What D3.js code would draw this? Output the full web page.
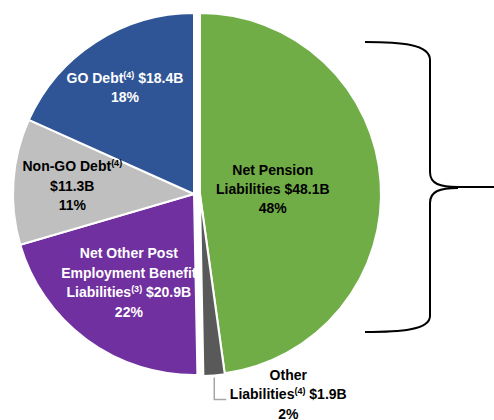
<!DOCTYPE html>
<html>
<head>
<meta charset="utf-8">
<script src="https://cdn.jsdelivr.net/npm/d3@7"></script>
<style>
  body { margin: 0; background: #fff; }
  svg { display: block; }
  text { font-family: "Liberation Sans", Arial, sans-serif; font-weight: bold; }
</style>
</head>
<body>
<svg id="chart" width="494" height="420"></svg>
<script>
// slices, clockwise from 12 o'clock
const categories = ["Net Pension Liabilities", "Other Liabilities", "Net Other Post Employment Benefit Liabilities", "Non-GO Debt", "GO Debt"];
const values = [48.1, 1.9, 20.9, 11.3, 18.4];
const percents = [48, 2, 22, 11, 18];
const footnotes = [null, 4, 3, 4, 4];
const colors = ["#70AD47", "#595959", "#7030A0", "#BFBFBF", "#2F5597"];
const textColors = ["#000", "#000", "#fff", "#000", "#fff"];

// label lines: each line is a list of pieces, a number is a footnote mark
const labelLines = [
    [["Net Pension"], ["Liabilities $48.1B"], ["48%"]],
    [["Other"], ["Liabilities", 4, " $1.9B"], ["2%"]],
    [["Net Other Post"], ["Employment Benefit"], ["Liabilities", 3, " $20.9B"], ["22%"]],
    [["Non-GO Debt", 4], ["$11.3B"], ["11%"]],
    [["GO Debt", 4, " $18.4B"], ["18%"]]
];

const cx = 194, cy = 194, radius = 181;
const offsets = [[6, 0], [6, 1], [0, 0], [0, 0], [0, 0]];
const labelRadius = [73, null, 110, 122, 127];
const lineHeight = 19.5;

const svg = d3.select("#chart");
const g = svg.append("g").attr("transform", `translate(${cx},${cy})`);

const pie = d3.pie().sort(null).value(d => d);
const arcs = pie(values);
const arc = d3.arc().innerRadius(0).outerRadius(radius);

g.selectAll("path.slice")
    .data(arcs)
    .enter().append("path")
    .attr("class", "slice")
    .attr("d", arc)
    .attr("transform", (d, i) => `translate(${offsets[i][0]},${offsets[i][1]})`)
    .attr("fill", (d, i) => colors[i])
    .attr("stroke", "#fff")
    .attr("stroke-width", 2)
    .attr("stroke-linejoin", "round");

function writeLabel(sel, lines, x, yCenter, color) {
    const t = sel.append("text")
        .attr("text-anchor", "middle")
        .attr("fill", color)
        .attr("font-size", "14px");
    const top = yCenter - (lines.length - 1) * lineHeight / 2;
    lines.forEach((line, li) => {
        const y = top + li * lineHeight + 5;
        let raised = false;
        line.forEach((piece, pi) => {
            const span = t.append("tspan");
            if (pi === 0) span.attr("x", x).attr("y", y);
            if (typeof piece === "number") {
                span.attr("font-size", "9px").attr("dy", -5).text("(" + piece + ")");
                raised = true;
            } else {
                if (raised) span.attr("dy", 5);
                raised = false;
                span.text(piece);
            }
        });
    });
}

arcs.forEach((d, i) => {
    if (labelRadius[i] === null) return;
    const la = d3.arc().innerRadius(labelRadius[i]).outerRadius(labelRadius[i]);
    const [lx, ly] = la.centroid(d);
    writeLabel(g, labelLines[i], lx + offsets[i][0], ly + offsets[i][1], textColors[i]);
});

// outside label for the small slice, with a leader line
const small = arcs[1];
const mid = (small.startAngle + small.endAngle) / 2;
const sx = Math.sin(mid) * (radius + 2) + offsets[1][0];
const sy = -Math.cos(mid) * (radius + 2) + offsets[1][1];
g.append("polyline")
    .attr("points", [[sx, sy], [sx, sy + 22], [sx + 12, sy + 22]].map(p => p.join(",")).join(" "))
    .attr("fill", "none")
    .attr("stroke", "#A6A6A6")
    .attr("stroke-width", 1.5);
writeLabel(g, labelLines[1], sx + 74, sy + 17, "#000");

// curly brace to the right of the pension slice
const brace = d3.path();
brace.moveTo(365, 42);
brace.bezierCurveTo(400, 42, 430, 44, 430, 60);
brace.lineTo(430, 172);
brace.bezierCurveTo(430, 184, 440, 187, 458, 187);
brace.lineTo(494, 187);
brace.moveTo(458, 188);
brace.bezierCurveTo(440, 188, 430, 191, 430, 203);
brace.lineTo(430, 316);
brace.bezierCurveTo(430, 330, 400, 332, 365, 332);
svg.append("path")
    .attr("d", brace.toString())
    .attr("fill", "none")
    .attr("stroke", "#000")
    .attr("stroke-width", 2);
</script>
</body>
</html>
